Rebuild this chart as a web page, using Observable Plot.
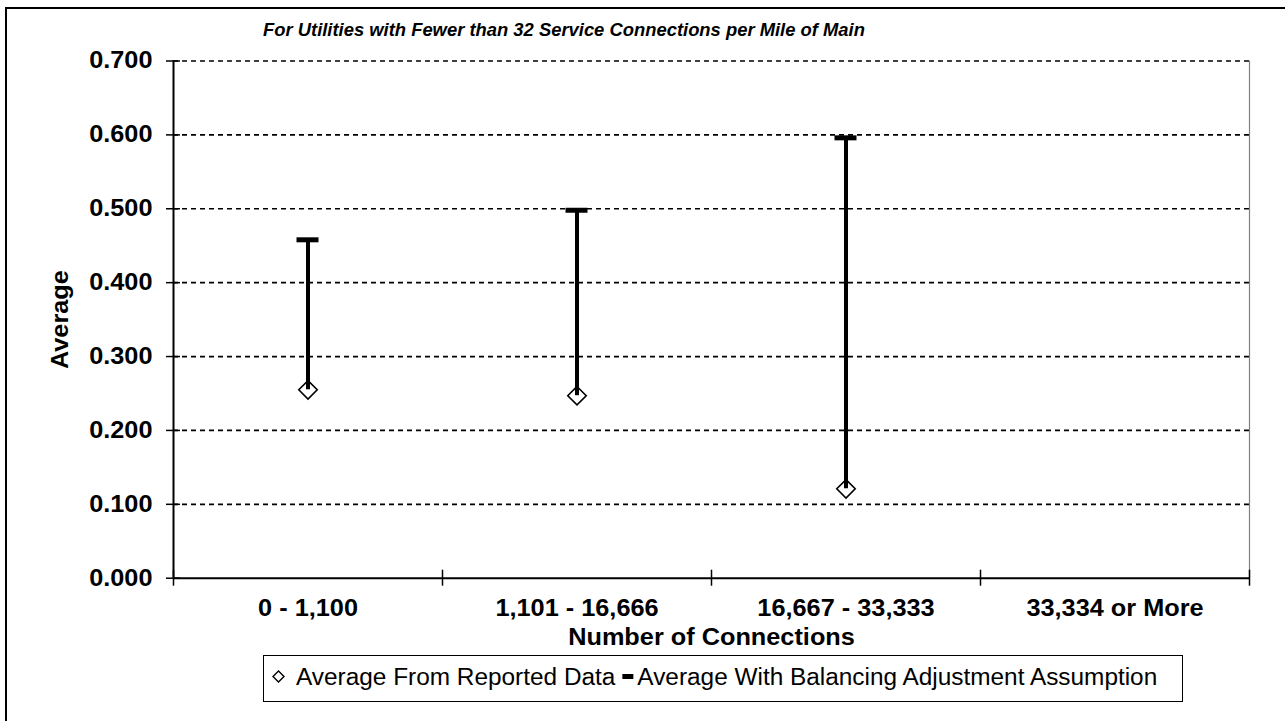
<!DOCTYPE html>
<html>
<head>
<meta charset="utf-8">
<script src="https://cdn.jsdelivr.net/npm/d3@7"></script>
<script src="https://cdn.jsdelivr.net/npm/@observablehq/plot@0.6"></script>
<style>
  html, body { margin: 0; padding: 0; background: #fff; }
  #frame { position: relative; width: 1285px; height: 721px; overflow: hidden; font-family: "Liberation Sans", Arial, sans-serif; }
  #border { position: absolute; left: 5px; top: 7px; width: 1300px; height: 740px; border: 2px solid #000; box-sizing: border-box; }
  #title { position: absolute; left: 263px; top: 19px; white-space: nowrap; font-weight: bold; font-style: italic; font-size: 18.4px; color: #000; }
  #chart { position: absolute; left: 0; top: 40px; }
  #legend { position: absolute; left: 263px; top: 655px; width: 920px; height: 47px; border: 1.5px solid #000; box-sizing: border-box; background: #fff; }
  #legend svg { position: absolute; left: 0; top: 0; }
</style>
</head>
<body>
<div id="frame">
  <div id="border"></div>
  <div id="title"></div>
  <div id="chart"></div>
  <div id="legend"></div>
</div>
<script>
const titleText = "For Utilities with Fewer than 32 Service Connections per Mile of Main";
const categories = ["0 - 1,100", "1,101 - 16,666", "16,667 - 33,333", "33,334 or More"];
const reported = [0.255, 0.247, 0.121, null];
const adjusted = [0.458, 0.498, 0.596, null];
const yTicks = [0, 0.1, 0.2, 0.3, 0.4, 0.5, 0.6, 0.7];
const seriesNames = ["Average From Reported Data", "Average With Balancing Adjustment Assumption"];
const xTitle = "Number of Connections";
const yTitle = "Average";

document.getElementById("title").textContent = titleText;

const rows = categories.map((c, i) => ({cat: c, reported: reported[i], adjusted: adjusted[i]}))
  .filter(d => d.reported != null && d.adjusted != null);

const W = 1285, H = 610, mL = 173, mR = 36, mT = 20.5, mB = 72.3;
const bw = (W - mL - mR) / categories.length;
const font = "'Liberation Sans', Arial, sans-serif";
const FS = 23;

const chart = Plot.plot({
  width: W,
  height: H,
  marginLeft: mL,
  marginRight: mR,
  marginTop: mT,
  marginBottom: mB,
  style: {fontFamily: font, fontSize: FS + "px", fontWeight: "bold", color: "#000", background: "transparent", overflow: "visible"},
  x: {domain: categories, padding: 0, axis: null},
  y: {domain: [0, 0.7], axis: null},
  marks: [
    Plot.ruleY(yTicks.filter(t => t > 0), {stroke: "#000", strokeWidth: 1.7, strokeDasharray: "5,4"}),
    Plot.ruleX([categories[categories.length - 1]], {y1: 0, y2: 0.7, dx: bw / 2, stroke: "#808080", strokeWidth: 1.2}),
    Plot.ruleY([0], {stroke: "#000", strokeWidth: 2}),
    Plot.ruleX([categories[0]], {y1: 0, y2: 0.7, dx: -bw / 2, stroke: "#000", strokeWidth: 2}),
    Plot.axisY({ticks: yTicks, tickSize: 14, dx: 7, tickPadding: 14, tickFormat: d3.format(".3f"), label: null,
      fontSize: FS, fontWeight: "bold", stroke: "#000", strokeWidth: 1.5, fill: "#000"}),
    Plot.axisX({tickSize: 0, tickPadding: 21, label: null, fontSize: FS, fontWeight: "bold", fill: "#000"}),
    Plot.ruleX(categories, {y1: 0, y2: 0, insetTop: -8, insetBottom: -8, dx: -bw / 2, stroke: "#000", strokeWidth: 1.5}),
    Plot.ruleX([categories[categories.length - 1]], {y1: 0, y2: 0, insetTop: -8, insetBottom: -8, dx: bw / 2, stroke: "#000", strokeWidth: 1.5}),
    Plot.text([yTitle], {frameAnchor: "left", dx: -113, rotate: -90, textAnchor: "middle", lineAnchor: "middle", text: d => d, fontSize: FS, fontWeight: "bold", fill: "#000"}),
    Plot.text([xTitle], {frameAnchor: "bottom", dy: 59, textAnchor: "middle", lineAnchor: "middle", text: d => d, fontSize: FS, fontWeight: "bold", fill: "#000"}),
    Plot.dot(rows, {x: "cat", y: "reported", symbol: "diamond2", r: 8.3, fill: "#fff", stroke: "#000", strokeWidth: 1.6}),
    Plot.ruleX(rows, {x: "cat", y1: "reported", y2: "adjusted", stroke: "#000", strokeWidth: 4}),
    Plot.tickY(rows, {x: "cat", y: "adjusted", stroke: "#000", strokeWidth: 5, insetLeft: (bw - 22) / 2, insetRight: (bw - 22) / 2})
  ]
});
document.getElementById("chart").appendChild(chart);

// horizontally widen the Arial-like text to match the reference's rendering
function widen(root, k) {
  root.querySelectorAll("text").forEach(t => {
    const w = t.getComputedTextLength();
    if (w > 0) {
      t.setAttribute("textLength", (w * k).toFixed(1));
      t.setAttribute("lengthAdjust", "spacingAndGlyphs");
    }
  });
}
widen(chart, 1.1);

// Legend (drawn as SVG inside the bordered box)
const LW = 917, LH = 44, LFS = 23;
const lsvg = d3.select("#legend").append("svg").attr("width", LW).attr("height", LH)
  .style("font-family", font).style("font-size", LFS + "px");
const cy = 20.5, base = 28.5, k = 1.06;
let x = 9;
lsvg.append("path").attr("d", `M${x + 5.5},${cy - 5.5}L${x + 11},${cy}L${x + 5.5},${cy + 5.5}L${x},${cy}Z`)
  .attr("fill", "#fff").attr("stroke", "#000").attr("stroke-width", 1.4);
x = 32;
const t1 = lsvg.append("text").attr("x", x).attr("y", base).attr("fill", "#000").text(seriesNames[0]);
let w1 = t1.node().getComputedTextLength() * k;
t1.attr("textLength", w1.toFixed(1)).attr("lengthAdjust", "spacingAndGlyphs");
x += w1 + 7;
lsvg.append("rect").attr("x", x).attr("y", cy - 2.5).attr("width", 11).attr("height", 5).attr("fill", "#000");
x += 15;
const t2 = lsvg.append("text").attr("x", x).attr("y", base).attr("fill", "#000").text(seriesNames[1]);
let w2 = t2.node().getComputedTextLength() * k;
t2.attr("textLength", w2.toFixed(1)).attr("lengthAdjust", "spacingAndGlyphs");
</script>
</body>
</html>
